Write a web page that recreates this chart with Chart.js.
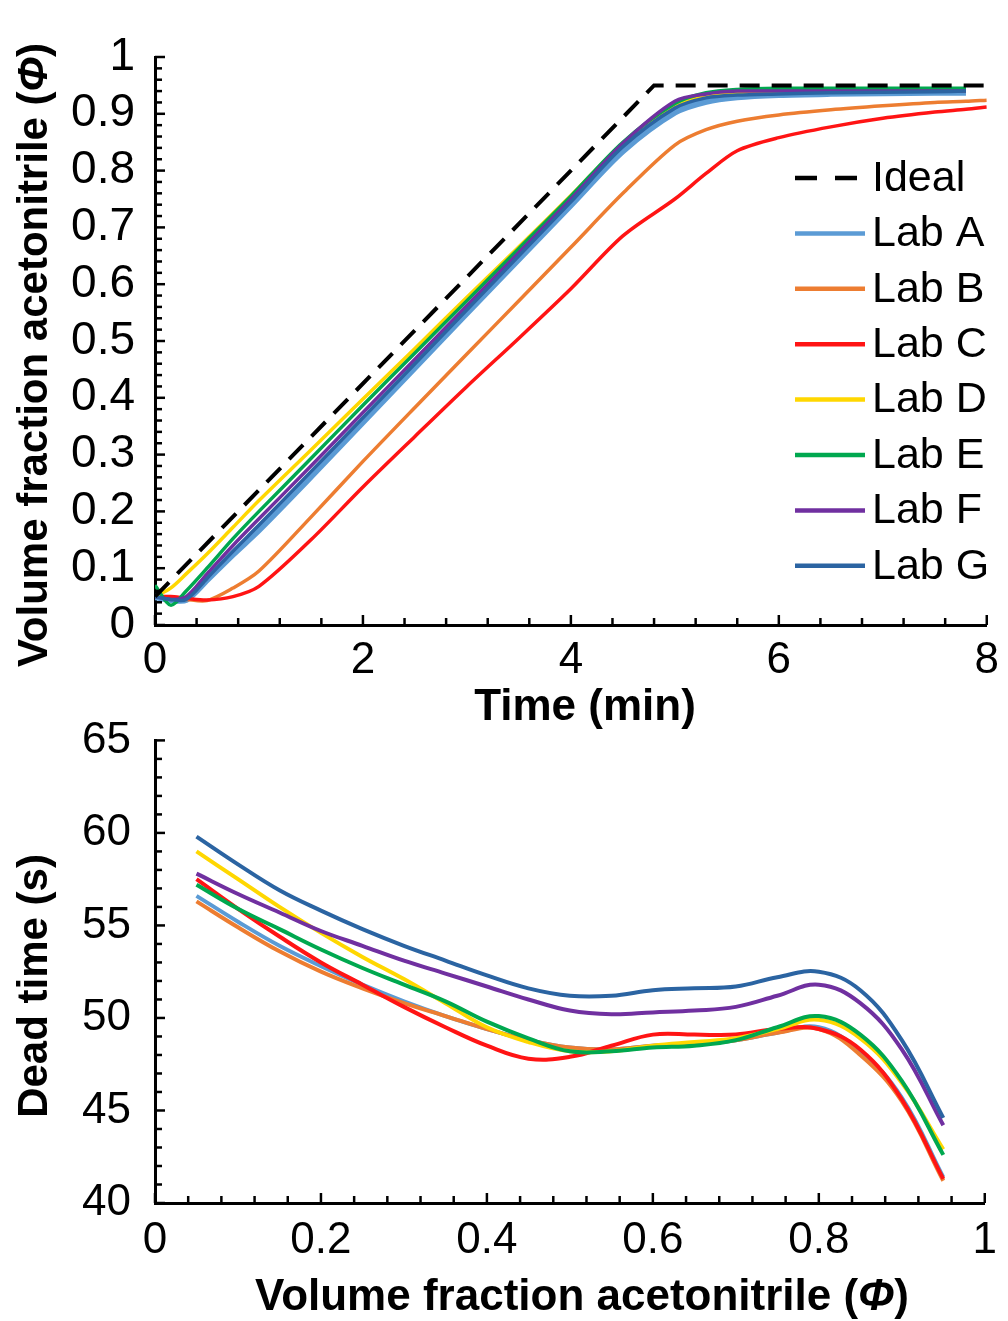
<!DOCTYPE html>
<html>
<head>
<meta charset="utf-8">
<script src="https://cdn.jsdelivr.net/npm/chart.js@4.4.1/dist/chart.umd.min.js"></script>
<style>
  html, body { margin: 0; padding: 0; background: #fff; }
  #wrap { position: relative; width: 1008px; height: 1321px; overflow: hidden; }
  canvas { position: absolute; left: 0; }
  #top { top: 0; }
  #bottom { top: 690px; }
</style>
</head>
<body>
<div id="wrap">
  <canvas id="top" width="1008" height="740"></canvas>
  <canvas id="bottom" width="1008" height="631"></canvas>
</div>
<script>
const FONT = "'Liberation Sans', Arial, sans-serif";

const labNames = ["Lab A", "Lab B", "Lab C", "Lab D", "Lab E", "Lab F", "Lab G"];
const labColors = ["#5B9BD5", "#ED7D31", "#FF1414", "#FFD700", "#00A84F", "#7030A0", "#2B64A2"];

// top panel: gradient profile, time (min) vs phi
const idealTime = [0, 4.8, 8];
const idealPhi = [0.05, 0.95, 0.95];
const gradTime = [0, 0.15, 0.3, 0.5, 0.75, 1, 1.5, 2, 2.5, 3, 3.5, 4, 4.5, 5, 5.3, 5.6, 6, 6.5, 7, 7.5, 7.8, 8];
const phiLabA = [0.05, 0.045, 0.045, 0.08, 0.125, 0.168, 0.262, 0.358, 0.454, 0.55, 0.645, 0.74, 0.835, 0.903, 0.922, 0.93, 0.934, 0.936, 0.937, 0.938, 0.938, null];
const phiLabB = [0.05, 0.048, 0.045, 0.043, 0.065, 0.095, 0.19, 0.288, 0.383, 0.477, 0.571, 0.665, 0.76, 0.845, 0.872, 0.887, 0.898, 0.907, 0.914, 0.92, 0.922, 0.924];
const phiLabC = [0.05, 0.05, 0.047, 0.044, 0.05, 0.068, 0.15, 0.243, 0.332, 0.42, 0.505, 0.592, 0.685, 0.75, 0.795, 0.835, 0.858, 0.877, 0.892, 0.903, 0.908, 0.912];
const phiLabD = [0.05, 0.065, 0.09, 0.125, 0.172, 0.219, 0.308, 0.398, 0.487, 0.577, 0.666, 0.756, 0.848, 0.915, 0.932, 0.937, 0.94, 0.94, 0.94, 0.94, 0.94, null];
const phiLabE = [0.07, 0.035, 0.06, 0.1, 0.152, 0.2, 0.293, 0.387, 0.479, 0.571, 0.663, 0.755, 0.85, 0.918, 0.937, 0.943, 0.945, 0.945, 0.945, 0.945, 0.945, null];
const phiLabF = [0.05, 0.045, 0.05, 0.09, 0.14, 0.187, 0.28, 0.374, 0.468, 0.562, 0.656, 0.75, 0.848, 0.922, 0.935, 0.94, 0.94, 0.94, 0.94, 0.94, 0.94, null];
const phiLabG = [0.05, 0.045, 0.045, 0.082, 0.13, 0.176, 0.27, 0.365, 0.46, 0.555, 0.65, 0.745, 0.842, 0.91, 0.928, 0.933, 0.935, 0.937, 0.938, 0.939, 0.94, null];
const topSeries = [phiLabA, phiLabB, phiLabC, phiLabD, phiLabE, phiLabF, phiLabG];

// bottom panel: dead time (s) vs phi
const phiSteps = [0.05, 0.1, 0.15, 0.2, 0.25, 0.3, 0.35, 0.4, 0.45, 0.5, 0.55, 0.6, 0.65, 0.7, 0.75, 0.8, 0.85, 0.9, 0.95];
const deadLabA = [56.6, 55.2, 53.9, 52.8, 51.8, 50.9, 50.1, 49.4, 48.8, 48.4, 48.3, 48.5, 48.6, 48.8, 49.2, 49.5, 48.2, 45.7, 41.4];
const deadLabB = [56.3, 54.9, 53.6, 52.5, 51.6, 50.8, 50.1, 49.4, 48.8, 48.4, 48.3, 48.5, 48.6, 48.8, 49.2, 49.4, 48.0, 45.5, 41.2];
const deadLabC = [57.5, 55.9, 54.4, 53.0, 51.8, 50.6, 49.5, 48.5, 47.8, 47.9, 48.5, 49.1, 49.1, 49.1, 49.4, 49.4, 48.3, 45.6, 41.3];
const deadLabD = [59.0, 57.5, 56.0, 54.6, 53.3, 52.1, 50.8, 49.5, 48.7, 48.2, 48.2, 48.5, 48.7, 48.9, 49.4, 49.9, 48.9, 46.5, 42.9];
const deadLabE = [57.2, 55.9, 54.8, 53.7, 52.7, 51.8, 50.9, 49.8, 48.9, 48.2, 48.2, 48.4, 48.5, 48.8, 49.5, 50.1, 49.1, 46.6, 42.6];
const deadLabF = [57.8, 56.7, 55.7, 54.7, 53.9, 53.1, 52.4, 51.7, 51.0, 50.4, 50.2, 50.3, 50.4, 50.6, 51.2, 51.8, 50.8, 48.3, 44.2];
const deadLabG = [59.8, 58.3, 56.9, 55.8, 54.8, 53.9, 53.1, 52.3, 51.6, 51.2, 51.2, 51.5, 51.6, 51.7, 52.2, 52.5, 51.5, 48.8, 44.6];
const bottomSeries = [deadLabA, deadLabB, deadLabC, deadLabD, deadLabE, deadLabF, deadLabG];

// draw order: lower = on top
const drawOrder = [7, 6, 5, 4, 3, 2, 1];

function pts(xs, ys) {
  return xs.map((x, i) => ({ x: x, y: ys[i] })).filter(p => p.y !== null);
}

function isStep(v, step) {
  const r = v / step;
  return Math.abs(r - Math.round(r)) < 1e-6;
}

// tick marks pointing into the plot
const innerTicks = {
  id: 'innerTicks',
  afterDraw(chart) {
    const ctx = chart.ctx;
    const area = chart.chartArea;
    ctx.save();
    ctx.strokeStyle = '#000';
    ctx.lineWidth = 2.5;
    for (const id of ['x', 'y']) {
      const s = chart.scales[id];
      for (const t of s.ticks) {
        const len = t.label !== '' ? 10 : 7;
        const p = s.getPixelForValue(t.value);
        ctx.beginPath();
        if (s.isHorizontal()) {
          ctx.moveTo(p, area.bottom);
          ctx.lineTo(p, area.bottom - len);
        } else {
          ctx.moveTo(area.left, p);
          ctx.lineTo(area.left + len, p);
        }
        ctx.stroke();
      }
    }
    ctx.restore();
  }
};

// axis titles with an italic phi
const axisTitles = {
  id: 'axisTitles',
  afterDraw(chart, args, opts) {
    const ctx = chart.ctx;
    for (const t of opts.titles) {
      ctx.save();
      ctx.translate(t.x, t.y);
      if (t.vertical) ctx.rotate(-Math.PI / 2);
      ctx.fillStyle = '#000';
      ctx.textBaseline = 'middle';
      ctx.textAlign = 'left';
      let total = 0;
      const widths = t.parts.map(p => {
        ctx.font = p[1] + ' ' + t.size + 'px ' + FONT;
        const w = ctx.measureText(p[0]).width;
        total += w;
        return w;
      });
      let cx = -total / 2;
      t.parts.forEach((p, i) => {
        ctx.font = p[1] + ' ' + t.size + 'px ' + FONT;
        ctx.fillText(p[0], cx, 0);
        cx += widths[i];
      });
      ctx.restore();
    }
  }
};

// legend inside the top plot
const sideLegend = {
  id: 'sideLegend',
  afterDraw(chart, args, opts) {
    const ctx = chart.ctx;
    const names = ['Ideal'].concat(labNames);
    ctx.save();
    ctx.font = '43px ' + FONT;
    ctx.textBaseline = 'middle';
    ctx.textAlign = 'left';
    names.forEach((name, i) => {
      const ds = chart.data.datasets.find(d => d.label === name);
      const y = opts.y + i * opts.gap;
      ctx.strokeStyle = ds.borderColor;
      ctx.lineWidth = 4.5;
      ctx.setLineDash(name === 'Ideal' ? [22, 18] : []);
      ctx.beginPath();
      ctx.moveTo(opts.x, y);
      ctx.lineTo(opts.x + 70, y);
      ctx.stroke();
      ctx.setLineDash([]);
      ctx.fillStyle = '#000';
      ctx.fillText(name, opts.x + 77, y + 1);
    });
    ctx.restore();
  }
};

function axis(min, max, step, labelStep, pad, size, fit, fmt) {
  return {
    type: 'linear',
    min: min,
    max: max,
    grid: { display: false, drawTicks: false },
    border: { display: true, color: '#000', width: 3 },
    ticks: {
      stepSize: step,
      autoSkip: false,
      maxRotation: 0,
      padding: pad,
      color: '#000',
      font: { family: FONT, size: size },
      callback: v => isStep(v, labelStep) ? fmt(v) : ''
    },
    afterFit: fit
  };
}

const topDatasets = [{
  label: 'Ideal',
  data: pts(idealTime, idealPhi),
  borderColor: '#000',
  borderWidth: 4,
  borderDash: [20, 12],
  showLine: true,
  pointRadius: 0,
  tension: 0,
  order: 0
}].concat(labNames.map((name, i) => ({
  label: name,
  data: pts(gradTime, topSeries[i]),
  borderColor: labColors[i],
  borderWidth: i === 0 ? 7 : 3.5,
  showLine: true,
  pointRadius: 0,
  tension: 0.3,
  order: drawOrder[i]
})));

new Chart(document.getElementById('top'), {
  type: 'scatter',
  data: { datasets: topDatasets },
  options: {
    responsive: false,
    animation: false,
    layout: { padding: { left: 0, top: 57, right: 18, bottom: 0 } },
    plugins: {
      legend: { display: false },
      tooltip: { enabled: false },
      axisTitles: { titles: [
        { x: 35, y: 355, size: 42, vertical: true, parts: [['Volume fraction acetonitrile (', 'bold'], ['Φ', 'italic bold'], [')', 'bold']] },
        { x: 585, y: 708, size: 44, vertical: false, parts: [['Time (min)', 'bold']] }
      ] },
      sideLegend: { x: 795, y: 178, gap: 55.4 }
    },
    scales: {
      x: axis(0, 8, 0.4, 2, 9, 44, s => { s.height = 115; }, v => String(Math.round(v))),
      y: axis(0, 1, 0.02, 0.1, 20, 46, s => { s.width = 155; }, v => String(Math.round(v * 10) / 10))
    }
  },
  plugins: [innerTicks, axisTitles, sideLegend]
});

const bottomDatasets = labNames.map((name, i) => ({
  label: name,
  data: pts(phiSteps, bottomSeries[i]),
  borderColor: labColors[i],
  borderWidth: 4,
  showLine: true,
  pointRadius: 0,
  tension: 0.4,
  order: drawOrder[i]
}));

new Chart(document.getElementById('bottom'), {
  type: 'scatter',
  data: { datasets: bottomDatasets },
  options: {
    responsive: false,
    animation: false,
    layout: { padding: { left: 0, top: 40, right: 18, bottom: 0 } },
    plugins: {
      legend: { display: false },
      tooltip: { enabled: false },
      axisTitles: { titles: [
        { x: 35, y: 296, size: 42, vertical: true, parts: [['Dead time (s)', 'bold']] },
        { x: 582, y: 608, size: 44, vertical: false, parts: [['Volume fraction acetonitrile (', 'bold'], ['Φ', 'italic bold'], [')', 'bold']] }
      ] }
    },
    scales: {
      x: axis(0, 1, 0.04, 0.2, 11, 44, s => { s.height = 118; }, v => String(Math.round(v * 5) / 5)),
      y: axis(40, 65, 1, 5, 24, 44, s => { s.width = 155; }, v => String(Math.round(v)))
    }
  },
  plugins: [innerTicks, axisTitles]
});
</script>
</body>
</html>
